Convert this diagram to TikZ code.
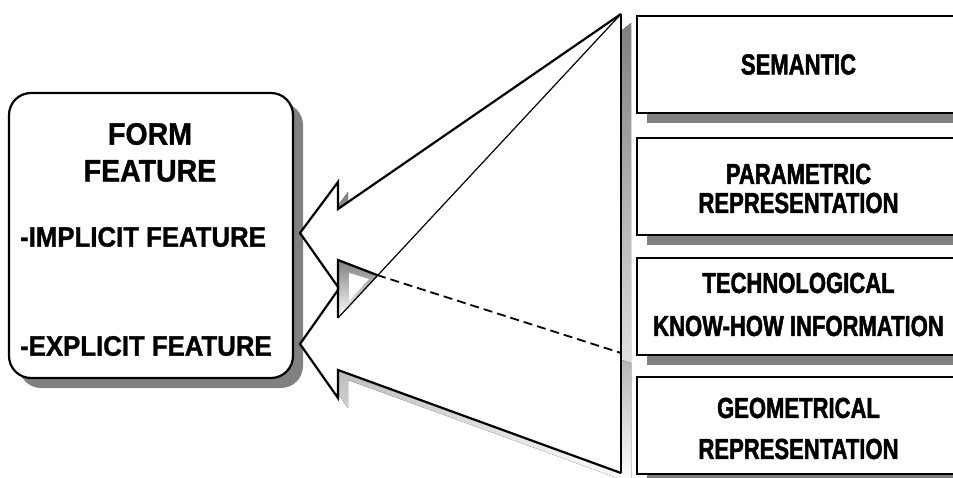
\documentclass[tikz,border=0pt]{standalone}
\usepackage{fontspec}
\setmainfont{Liberation Sans}
\newfontfamily\leftface{Liberation Sans Bold}[FakeStretch=0.92, FakeBold=1.2]
\newfontfamily\rightface{Liberation Sans Bold}[FakeStretch=0.76, FakeBold=1.6]
\usetikzlibrary{shadows}
\definecolor{shade}{RGB}{128,128,128}

\tikzset{
  featbox/.style={draw=black, line width=2.2pt, fill=white, rounded corners=22pt,
    minimum width=284pt, minimum height=285pt, inner sep=0pt,
    general shadow={fill=shade, shadow xshift=10pt, shadow yshift=-10pt}},
  infobox/.style={draw=black, line width=1.8pt, fill=white,
    minimum width=323pt, minimum height=97pt, inner sep=0pt,
    general shadow={fill=shade, shadow xshift=10pt, shadow yshift=-10pt}},
  titletext/.style={inner sep=0pt, font=\leftface\fontsize{31}{36}\selectfont},
  itemtext/.style={inner sep=0pt, anchor=west, font=\leftface\fontsize{28}{33}\selectfont},
  boxtext/.style={inner sep=0pt, font=\rightface\fontsize{29}{34}\selectfont},
  outline/.style={line width=2.2pt, line join=miter},
  thinline/.style={line width=1.2pt},
  hidden/.style={line width=1.8pt, dash pattern=on 9pt off 5pt},
  sh/.style={shift={(10,10)}},
}

\begin{document}
\begin{tikzpicture}[x=1pt, y=-1pt]
\useasboundingbox (0,0) rectangle (953,478);

% Form feature box
\node[featbox] (form) at (151,235.5) {};
\node[titletext] (t1) at (150,134) {FORM};
\node[titletext] (t2) at (150,171) {FEATURE};
\node[itemtext] (imp) at (20,237) {-IMPLICIT FEATURE};
\node[itemtext] (exp) at (20,346) {-EXPLICIT FEATURE};

% Information boxes on the right
\node[infobox] (sem) at (798.5,64.5) {};
\node[infobox] (par) at (798.5,186.5) {};
\node[infobox] (tec) at (798.5,306.5) {};
\node[infobox] (geo) at (798.5,425.5) {};
\node[boxtext] (semt) at (798.5,64.5) {SEMANTIC};
\node[boxtext] (par1) at (798.5,174) {PARAMETRIC};
\node[boxtext] (par2) at (798.5,203) {REPRESENTATION};
\node[boxtext] (tec1) at (798.5,283) {TECHNOLOGICAL};
\node[boxtext] (tec2) at (798.5,326) {KNOW-HOW INFORMATION};
\node[boxtext] (geo1) at (798.5,408) {GEOMETRICAL};
\node[boxtext] (geo2) at (798.5,449) {REPRESENTATION};

% Corner points of the two block arrows
\coordinate (top) at (621,14);
\coordinate (bot) at (621,473);
\coordinate (un) at (338,209);
\coordinate (ub) at (338,182);
\coordinate (ut) at (300,233);
\coordinate (ulb) at (338,287);
\coordinate (uln) at (338,318);
\coordinate (ln) at (338,260);
\coordinate (lx) at (377,275);
\coordinate (lb) at (338,290);
\coordinate (lt) at (300,344);
\coordinate (llb) at (338,398);
\coordinate (lln) at (338,370);
\coordinate (lr) at (621,353);

% Shadows
\fill[shade] (621,31) -- (631,23) -- (631,478) -- (621,478) -- cycle;
\fill[shade] ([sh]un) -- ([sh]ub) -- ([sh]ut) -- ([sh]ulb) -- cycle;
\fill[shade] ([sh]ln) -- ([sh]lr) -- ([sh]bot) -- ([sh]lln) -- ([sh]llb) -- ([sh]lt) -- ([sh]lb) -- cycle;

% Arrow bodies
\fill[white] (top) -- (un) -- (ub) -- (ut) -- (ulb) -- (uln) -- cycle;
\fill[white] (ln) -- (lr) -- (bot) -- (lln) -- (llb) -- (lt) -- (lb) -- cycle;

% Shadow seen where the two arrows overlap
\fill[shade] (ln) -- (lx) -- (uln) -- cycle;
\fill[white] (349,273) -- (369,279) -- (349,301) -- cycle;

% Arrow outlines
\draw[outline] (top) -- (un) -- (ub) -- (ut) -- (ulb) -- (uln);
\draw[thinline] (uln) -- (top);
\draw[outline] (lx) -- (ln) -- (lb) -- (lt) -- (llb) -- (lln) -- (bot);
\draw[hidden] (lx) -- (lr);
\draw[outline] (top) -- (bot);
\end{tikzpicture}
\end{document}
